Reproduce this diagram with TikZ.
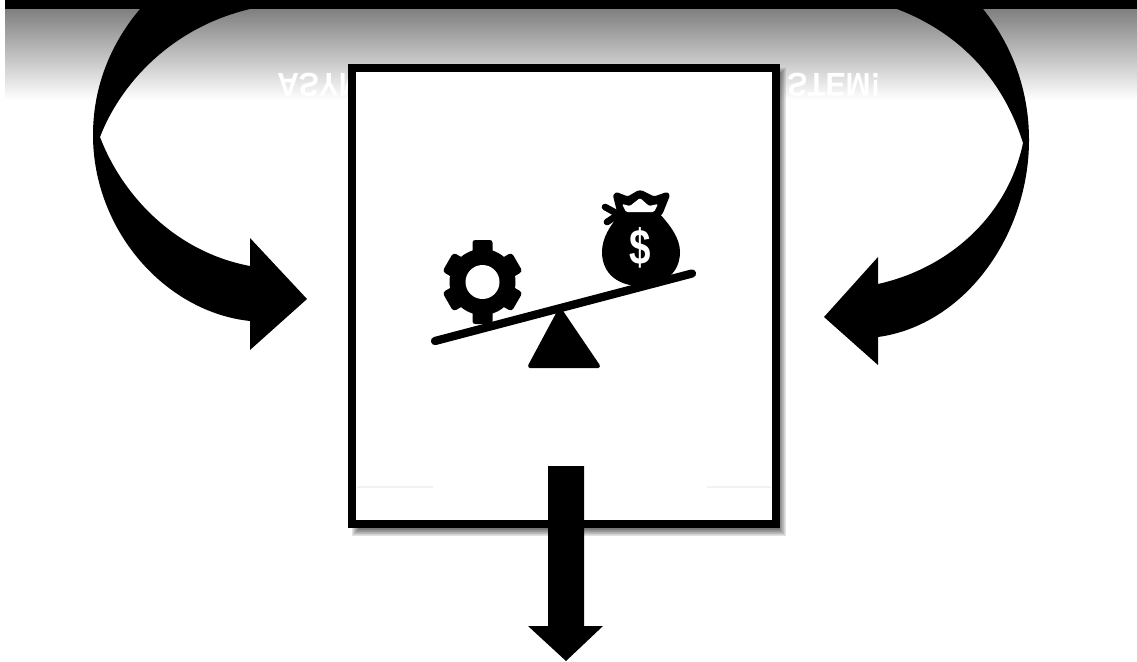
\documentclass[tikz,border=0pt]{standalone}
\usepackage{fontspec}
\setmainfont{Liberation Sans}
\tikzset{
  ink/.style={fill=black,draw=none},
  panel/.style={draw=black,line width=6pt,fill=white},
  panelshadow/.style={draw=black,draw opacity=.06,fill=none},
  mirrored/.style={text=white,inner sep=0pt,font=\bfseries\fontsize{22.5pt}{24pt}\selectfont,anchor=base west,yscale=-1.1,transform shape},
}
\begin{document}
\begin{tikzpicture}[x=0.75pt,y=-0.75pt]
\useasboundingbox (0,0) rectangle (1137,661);
\fill[white] (0,0) rectangle (1137,661);
% top band
\shade[top color=black!50,bottom color=white] (5,9) rectangle (1137,100);
\fill[ink] (5,0) rectangle (1137,9);
% flipped text
\node[mirrored] (leftword) at (277,73) {ASYM};
\node[mirrored] (rightword) at (787,73) {STEM!};
% panel shadow and panel
\foreach \w in {14,13,...,3}
  \draw[panelshadow,line width=\w pt] (361,77) rectangle (777,527);
\path[panel] (352,67.5) rectangle (775.5,524);
\draw[black!5,line width=1pt] (357,487) -- (433,487) (707,487) -- (771,487);
% left curved arrow
\fill[ink] (140,9) .. controls (112,42) and (93,85) .. (93,135)
  .. controls (93,230) and (165,312) .. (250,321)
  -- (250,350) -- (307,299) -- (250,238) -- (250,266)
  .. controls (175,252) and (122,195) .. (100,137)
  .. controls (120,85) and (170,28) .. (250,9) -- cycle;
% right curved arrow
\fill[ink] (983,9) .. controls (1012,45) and (1029,90) .. (1029,140)
  .. controls (1029,235) and (965,325) .. (878,337)
  -- (878,365) -- (824,317) -- (878,257) -- (878,284)
  .. controls (950,268) and (1008,215) .. (1023,143)
  .. controls (1005,85) and (965,35) .. (897,9) -- cycle;
% down arrow
\fill[ink] (548,466) -- (584,466) -- (584,626) -- (603,626) -- (566,661) -- (528,626) -- (548,626) -- cycle;
% seesaw
\draw[line width=6.2pt,line cap=round] (435,341) -- (692,273.5);
\fill[ink,draw=black,line width=3pt,line join=round] (560,310) -- (598,366) -- (530,366) -- cycle;
% gear
\fill[ink] (482.5,282) circle[radius=33];
\foreach \a in {0,180}
  \fill[ink,rounded corners=2pt,shift={(482.5,282)},rotate=\a] (-10,-42) rectangle (10,0);
\foreach \a in {60,120,240,300}
  \fill[ink,rounded corners=2.5pt,shift={(482.5,282)},rotate=\a] (-11,-40) rectangle (11,0);
\fill[white] (482.5,282) circle[radius=17];
% money bag
\fill[ink] (622,212) .. controls (610,225) and (602,238) .. (602,252)
  .. controls (602,275) and (620,286) .. (640,286)
  .. controls (665,286) and (680,272) .. (680,252)
  .. controls (680,238) and (670,225) .. (658,212) -- cycle;
\fill[ink,draw=black,line width=3.5pt,line join=round,rounded corners=2pt] (615,194) -- (628,199) -- (640,192) -- (654,199) -- (668,194) -- (660,214) -- (620,214) -- cycle;
\fill[white,rounded corners=1pt] (622,204) -- (630,206) -- (640,198) -- (649,206) -- (658,204) -- (654,212) -- (626,212) -- cycle;
\draw[line width=5pt,line cap=round] (605,207) -- (616,213) (607,222) -- (616,216);
\node[text=white,inner sep=0pt,font=\bfseries\fontsize{34pt}{36pt}\selectfont,xscale=.85,yscale=1.1,transform shape] (dollar) at (640,248) {\$};
\end{tikzpicture}
\end{document}
